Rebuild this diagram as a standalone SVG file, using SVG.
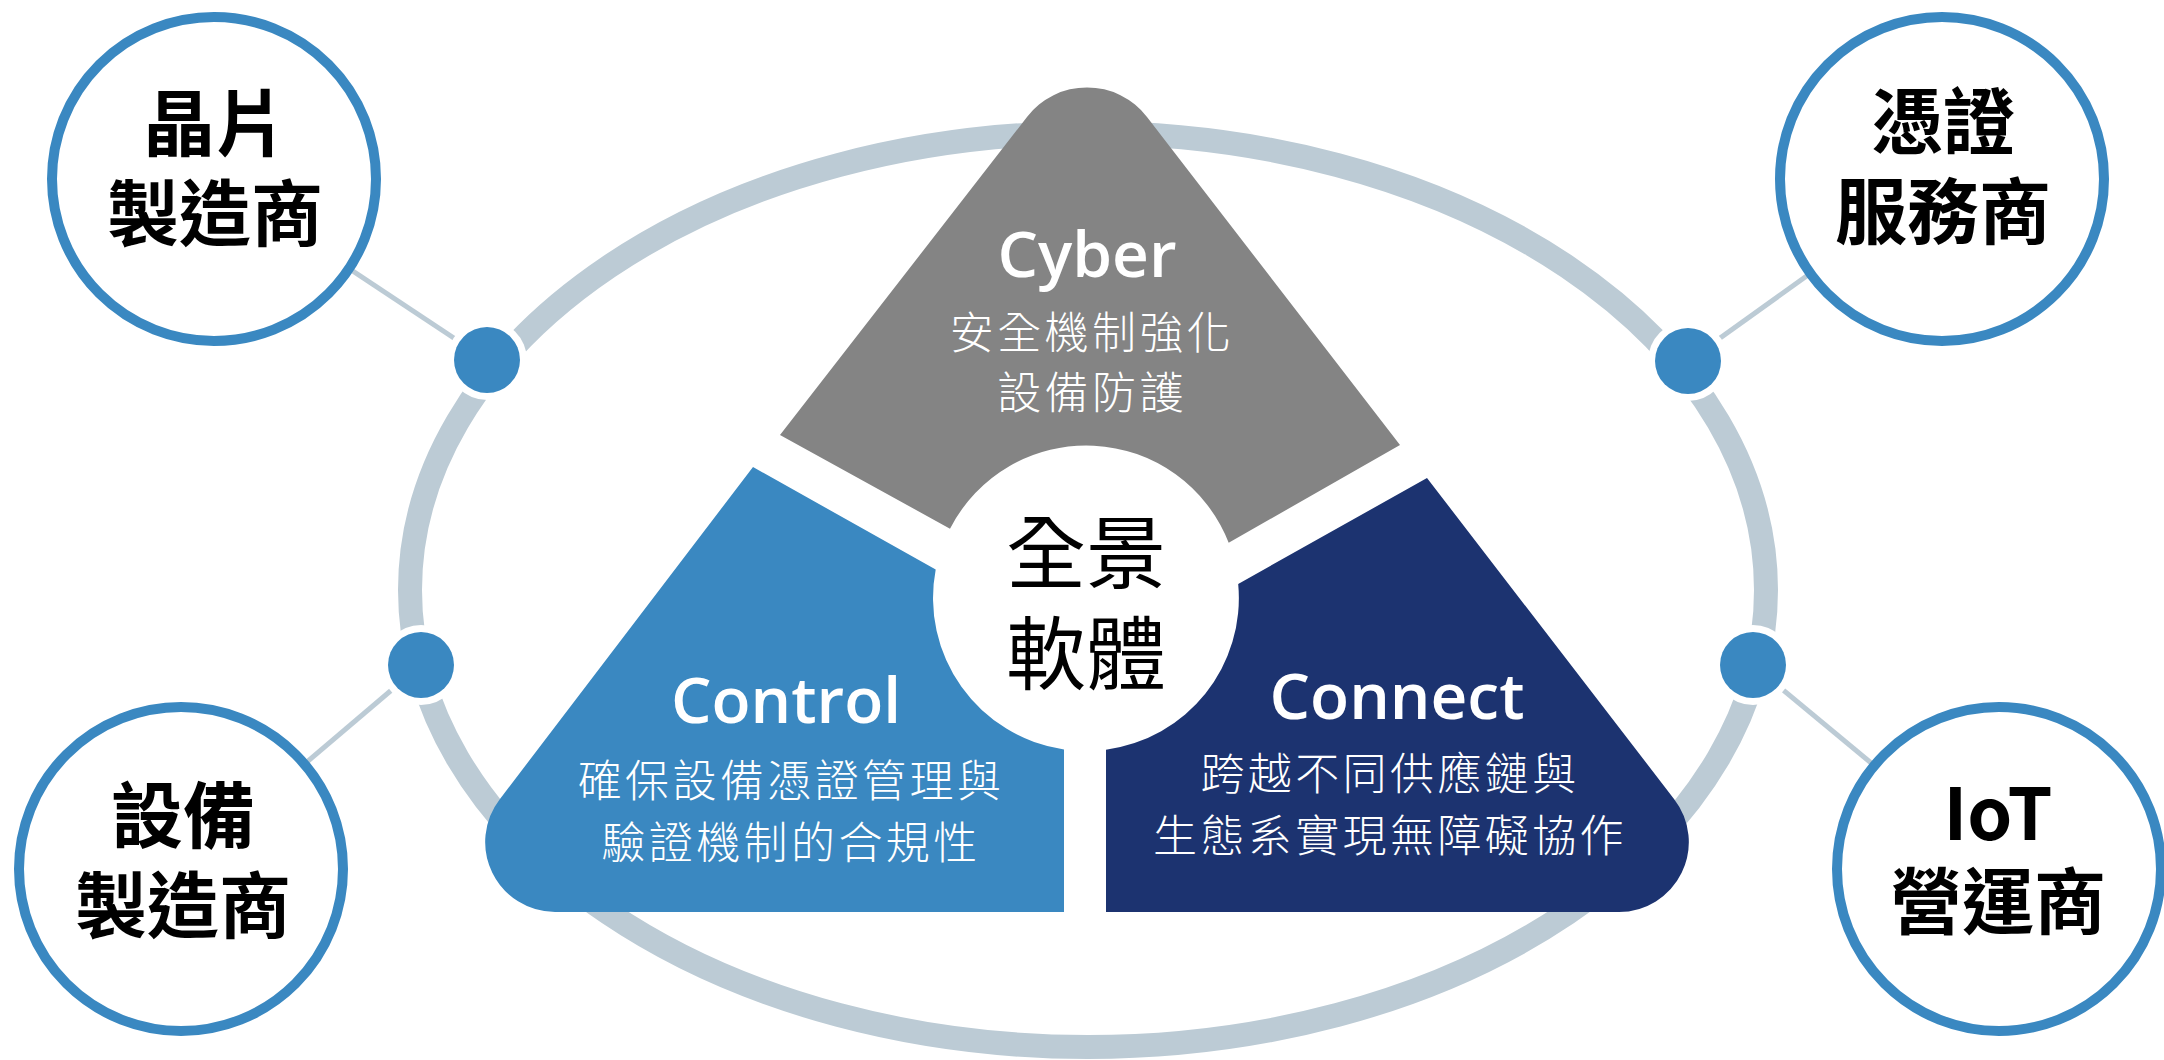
<svg xmlns="http://www.w3.org/2000/svg" width="2164" height="1060" viewBox="0 0 2164 1060">
  <style>
    .ring { fill: none; stroke: #bccbd5; stroke-width: 24; }
    .link { stroke: #bccbd5; stroke-width: 5; }
    .halo { fill: #ffffff; }
    .dot { fill: #3a88c1; }
    .party { fill: #ffffff; stroke: #3a88c1; stroke-width: 10; }
    .party-label { font-family: "Noto Sans CJK TC", "Noto Sans CJK SC", sans-serif; font-weight: 700; font-size: 72px; fill: #000000; text-anchor: middle; }
    .title { font-family: "Open Sans", "Noto Sans", sans-serif; font-weight: 600; font-size: 64px; fill: #ffffff; text-anchor: middle; }
    .sub { font-family: "Noto Sans CJK TC", "Noto Sans CJK SC", sans-serif; font-weight: 300; font-size: 44px; letter-spacing: 3.4px; fill: #ffffff; text-anchor: middle; }
    .core { font-family: "Noto Sans CJK TC", "Noto Sans CJK SC", sans-serif; font-weight: 400; font-size: 80px; fill: #000000; text-anchor: middle; }
  </style>

  <rect width="2164" height="1060" fill="#ffffff"/>

  <!-- ecosystem ring -->
  <g id="ring">
    <ellipse class="ring" cx="1088" cy="590" rx="678" ry="457"/>
  </g>

  <!-- spokes from ring junctions to partner circles -->
  <g id="connectors">
    <line class="link" x1="214" y1="179" x2="487" y2="360"/>
    <line class="link" x1="181" y1="869" x2="421" y2="665"/>
    <line class="link" x1="1942" y1="179" x2="1688" y2="361"/>
    <line class="link" x1="1999" y1="869" x2="1753" y2="665"/>
    <g id="junctions">
      <circle class="halo" cx="487" cy="360" r="40"/>
      <circle class="dot" cx="487" cy="360" r="33"/>
      <circle class="halo" cx="421" cy="665" r="40"/>
      <circle class="dot" cx="421" cy="665" r="33"/>
      <circle class="halo" cx="1688" cy="361" r="40"/>
      <circle class="dot" cx="1688" cy="361" r="33"/>
      <circle class="halo" cx="1753" cy="665" r="40"/>
      <circle class="dot" cx="1753" cy="665" r="33"/>
    </g>
  </g>

  <!-- partner circles -->
  <g id="chip-maker">
    <circle class="party" cx="214" cy="179" r="162"/>
    <text class="party-label" x="215" y="150">晶片</text>
    <text class="party-label" x="215" y="240">製造商</text>
  </g>
  <g id="device-maker">
    <circle class="party" cx="181" cy="869" r="162"/>
    <text class="party-label" x="183" y="842">設備</text>
    <text class="party-label" x="183" y="932">製造商</text>
  </g>
  <g id="credential-provider">
    <circle class="party" cx="1942" cy="179" r="162"/>
    <text class="party-label" x="1943" y="148">憑證</text>
    <text class="party-label" x="1943" y="238">服務商</text>
  </g>
  <g id="iot-operator">
    <circle class="party" cx="1999" cy="869" r="162"/>
    <text class="party-label" x="1998" y="840">IoT</text>
    <text class="party-label" x="1998" y="928">營運商</text>
  </g>

  <!-- three pillars around the core -->
  <g id="cyber">
    <path fill="#848484" d="M 780 435 L 1027 117 A 75.6 75.6 0 0 1 1147 117 L 1400 445 L 1228.7 542.8 A 153 153 0 0 0 950 528.7 Z"/>
    <text class="title" x="1087" y="277">Cyber</text>
    <text class="sub" x="1092" y="349">安全機制強化</text>
    <text class="sub" x="1092" y="409">設備防護</text>
  </g>
  <g id="control">
    <path fill="#3a88c1" d="M 753 467 L 499.8 799.2 A 70 70 0 0 0 555 912 L 1064 912 L 1064 749.4 A 153 153 0 0 1 935.7 569.5 Z"/>
    <text class="title" x="786" y="723">Control</text>
    <text class="sub" x="791" y="797">確保設備憑證管理與</text>
    <text class="sub" x="791" y="859">驗證機制的合規性</text>
  </g>
  <g id="connect">
    <path fill="#1c3370" d="M 1427 478 L 1674.2 799.2 A 70 70 0 0 1 1618.9 912 L 1106 912 L 1106 749.7 A 153 153 0 0 0 1238.2 583.9 Z"/>
    <text class="title" x="1397" y="719">Connect</text>
    <text class="sub" x="1390" y="790">跨越不同供應鏈與</text>
    <text class="sub" x="1390" y="852">生態系實現無障礙協作</text>
  </g>

  <!-- core label -->
  <g id="core">
    <text class="core" x="1086" y="582">全景</text>
    <text class="core" x="1086" y="683">軟體</text>
  </g>
</svg>
